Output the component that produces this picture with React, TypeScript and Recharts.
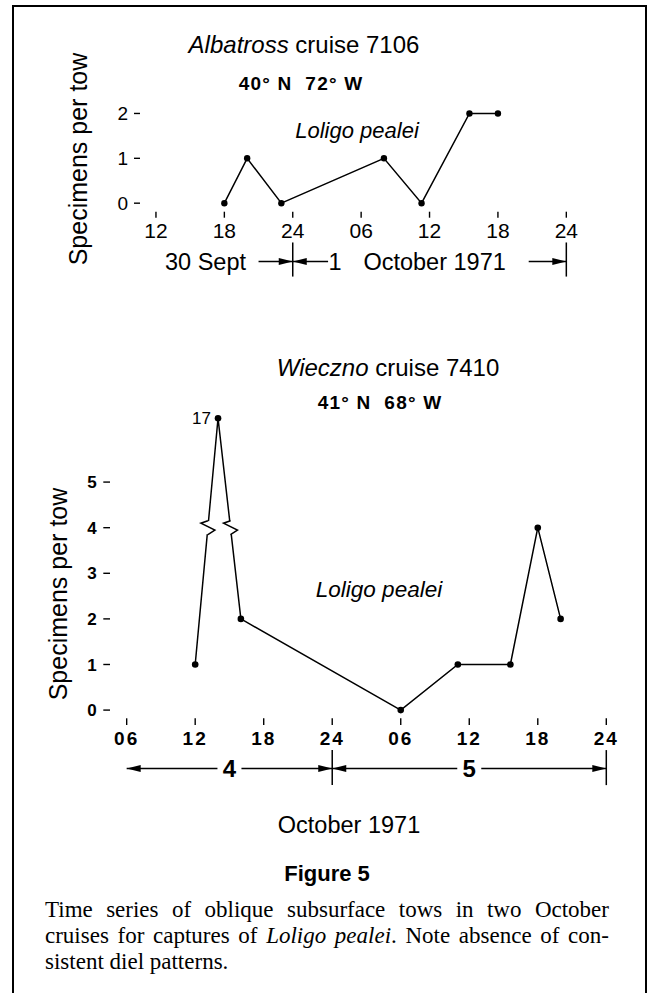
import React from "react";
import { LineChart, Line, XAxis, YAxis, ReferenceLine, ReferenceDot, LabelList } from "recharts";

// Albatross cruise 7106 — hours counted from 00h 30 Sept 1971
const TOP_HOURS = [18, 20, 23, 32, 35.3, 39.5, 42];
const TOP_COUNTS = [0, 1, 0, 1, 0, 2, 2];
const TOP_X_TICKS = [12, 18, 24, 30, 36, 42, 48];
const TOP_X_LABELS = ["12", "18", "24", "06", "12", "18", "24"];
const TOP_Y_TICKS = [0, 1, 2];
const TOP_DAY_MARKS = [24, 48];

// Wieczno cruise 7410 — hours counted from 00h 4 October 1971
const BOTTOM_HOURS = [12, 14, 16, 30, 35, 39.6, 42, 44];
const BOTTOM_COUNTS = [1, 17, 2, 0, 1, 1, 4, 2];
const BOTTOM_X_TICKS = [6, 12, 18, 24, 30, 36, 42, 48];
const BOTTOM_X_LABELS = ["06", "12", "18", "24", "06", "12", "18", "24"];
const BOTTOM_Y_TICKS = [0, 1, 2, 3, 4, 5];
const BOTTOM_DAYS = [
  { from: 6, to: 24, label: "4" },
  { from: 24, to: 48, label: "5" },
];

// broken y axis: counts above the last tick sit at OFF_SCALE_AT, zigzag drawn at BREAK_AT
const OFF_SCALE_AT = 6.4;
const BREAK_AT = 4;

const SANS = "'Liberation Sans', Arial, Helvetica, sans-serif";
const SERIF = "'Liberation Serif', 'Times New Roman', serif";

const topData = TOP_HOURS.map((h, i) => ({ h, n: TOP_COUNTS[i] }));

const yMax = BOTTOM_Y_TICKS[BOTTOM_Y_TICKS.length - 1];
const bottomData = BOTTOM_HOURS.map((h, i) => ({
  h,
  n: BOTTOM_COUNTS[i],
  y: BOTTOM_COUNTS[i] > yMax ? OFF_SCALE_AT : BOTTOM_COUNTS[i],
}));

// where each leg touching an off-scale point crosses the break level
const breaks: number[] = [];
bottomData.forEach((d, i) => {
  if (d.n <= yMax) return;
  for (const j of [i - 1, i + 1]) {
    const o = bottomData[j];
    if (!o) continue;
    const t = (BREAK_AT - o.y) / (d.y - o.y);
    breaks.push(o.h + t * (d.h - o.h));
  }
});

function Zigzag(p: any) {
  const { cx, cy } = p;
  return (
    <g>
      <rect x={cx - 4} y={cy - 6.5} width={8} height={13} fill="#fff" />
      <path
        d={`M${cx},${cy + 7} L${cx + 7},${cy + 2.5} L${cx - 7},${cy - 4.5} L${cx},${cy - 7}`}
        fill="none"
        stroke="#000"
        strokeWidth={1.5}
      />
    </g>
  );
}

function arrowShape(heads: "end" | "both", label?: string) {
  return (p: any) => {
    const { x1, y1, x2, y2 } = p;
    const d = Math.sign(x2 - x1) || 1;
    const L = 14;
    const W = 3.5;
    const head = (x: number, y: number, dir: number) =>
      `M${x},${y} L${x - dir * L},${y - W} L${x - dir * L},${y + W} Z`;
    const mid = (x1 + x2) / 2;
    return (
      <g>
        <line x1={x1} y1={y1} x2={x2} y2={y2} stroke="#000" strokeWidth={1.5} />
        <path d={head(x2, y2, d)} fill="#000" />
        {heads === "both" && <path d={head(x1, y1, -d)} fill="#000" />}
        {label && (
          <g>
            <rect x={mid - 12} y={y1 - 10} width={24} height={20} fill="#fff" />
            <text
              x={mid}
              y={y1}
              dy="0.36em"
              textAnchor="middle"
              fontFamily={SANS}
              fontWeight="bold"
              fontSize={24}
              fill="#000"
            >
              {label}
            </text>
          </g>
        )}
      </g>
    );
  };
}

function textShape(text: string, anchor: "start" | "middle" | "end") {
  return (p: any) => (
    <text
      x={p.cx}
      y={p.cy}
      dy="0.36em"
      textAnchor={anchor}
      fontFamily={SANS}
      fontSize={23.5}
      fill="#000"
    >
      {text}
    </text>
  );
}

function Label(props: {
  x: number;
  y: number;
  size: number;
  children: React.ReactNode;
  bold?: boolean;
  spacing?: number;
}) {
  return (
    <div
      style={{
        position: "absolute",
        left: props.x,
        top: props.y,
        transform: "translate(-50%, -50%)",
        whiteSpace: "pre",
        fontFamily: SANS,
        fontSize: props.size,
        fontWeight: props.bold ? "bold" : "normal",
        letterSpacing: props.spacing ?? 0,
        lineHeight: 1,
        color: "#000",
      }}
    >
      {props.children}
    </div>
  );
}

function YTitle({ x, y }: { x: number; y: number }) {
  return (
    <div
      style={{
        position: "absolute",
        left: x,
        top: y,
        transform: "translate(-50%, -50%) rotate(-90deg)",
        whiteSpace: "nowrap",
        fontFamily: SANS,
        fontSize: 25,
        lineHeight: 1,
        color: "#000",
      }}
    >
      Specimens per tow
    </div>
  );
}

const TOP_ARROW_Y = -1.3;
const TOP_MARK_Y = [-0.876, -1.636];
const BOTTOM_ARROW_Y = -1.28;
const BOTTOM_MARK_Y = [-0.877, -1.645];

export default function App() {
  return (
    <div
      style={{
        position: "absolute",
        left: 0,
        top: 0,
        width: 651,
        height: 993,
        overflow: "hidden",
        background: "#fff",
      }}
    >
      <div
        style={{
          position: "absolute",
          left: 12,
          top: 5,
          width: 635,
          height: 1000,
          boxSizing: "border-box",
          borderLeft: "2px solid #000",
          borderTop: "2px solid #000",
          borderRight: "2px solid #000",
        }}
      />

      <Label x={304} y={45} size={24}>
        <i>Albatross</i> cruise 7106
      </Label>
      <Label x={301} y={83} size={19} bold spacing={1.2}>
        {"40° N  72° W"}
      </Label>
      <Label x={357} y={131} size={22}>
        <i>Loligo pealei</i>
      </Label>
      <YTitle x={78} y={159} />

      <div style={{ position: "absolute", left: 0, top: 0 }}>
        <LineChart width={651} height={300} data={topData} margin={{ top: 100, right: 71, bottom: 58.3, left: 80 }}>
          <XAxis
            type="number"
            dataKey="h"
            domain={[10.6, 49.2]}
            allowDataOverflow
            ticks={TOP_X_TICKS}
            interval={0}
            tickFormatter={(v: number) => TOP_X_LABELS[TOP_X_TICKS.indexOf(v)]}
            axisLine={false}
            tickLine={{ stroke: "#000", strokeWidth: 1.4 }}
            tickSize={6}
            tickMargin={5}
            height={30}
            tick={{ fill: "#000", fontSize: 21, fontFamily: SANS }}
          />
          <YAxis
            type="number"
            domain={[-0.19, 2.3]}
            allowDataOverflow
            ticks={TOP_Y_TICKS}
            interval={0}
            axisLine={false}
            tickLine={{ stroke: "#000", strokeWidth: 1.4 }}
            tickSize={6}
            tickMargin={6}
            width={60}
            tick={{ fill: "#000", fontSize: 19, fontFamily: SANS }}
          />
          <Line
            dataKey="n"
            stroke="#000"
            strokeWidth={1.5}
            dot={{ r: 3.2, fill: "#000", stroke: "#000", strokeWidth: 0 }}
            activeDot={false}
            isAnimationActive={false}
          />
          {TOP_DAY_MARKS.map((h) => (
            <ReferenceLine
              key={`m${h}`}
              segment={[
                { x: h, y: TOP_MARK_Y[0] },
                { x: h, y: TOP_MARK_Y[1] },
              ]}
              stroke="#000"
              strokeWidth={1.5}
              ifOverflow="visible"
            />
          ))}
          <ReferenceLine
            segment={[
              { x: 21, y: TOP_ARROW_Y },
              { x: 24, y: TOP_ARROW_Y },
            ]}
            ifOverflow="visible"
            shape={arrowShape("end")}
          />
          <ReferenceLine
            segment={[
              { x: 27.1, y: TOP_ARROW_Y },
              { x: 24, y: TOP_ARROW_Y },
            ]}
            ifOverflow="visible"
            shape={arrowShape("end")}
          />
          <ReferenceLine
            segment={[
              { x: 44.7, y: TOP_ARROW_Y },
              { x: 48, y: TOP_ARROW_Y },
            ]}
            ifOverflow="visible"
            shape={arrowShape("end")}
          />
          <ReferenceDot x={19.9} y={TOP_ARROW_Y} r={0} ifOverflow="visible" shape={textShape("30 Sept", "end")} />
          <ReferenceDot x={27.7} y={TOP_ARROW_Y} r={0} ifOverflow="visible" shape={textShape("1", "middle")} />
          <ReferenceDot x={30.2} y={TOP_ARROW_Y} r={0} ifOverflow="visible" shape={textShape("October 1971", "start")} />
        </LineChart>
      </div>

      <Label x={388} y={368} size={24}>
        <i>Wieczno</i> cruise 7410
      </Label>
      <Label x={380} y={402} size={19} bold spacing={1.2}>
        {"41° N  68° W"}
      </Label>
      <Label x={379} y={590} size={22.5}>
        <i>Loligo pealei</i>
      </Label>
      <YTitle x={58} y={594} />

      <div style={{ position: "absolute", left: 0, top: 300 }}>
        <LineChart width={651} height={500} data={bottomData} margin={{ top: 100, right: 31, bottom: 51.7, left: 50 }}>
          <XAxis
            type="number"
            dataKey="h"
            domain={[4.54, 49.2]}
            allowDataOverflow
            ticks={BOTTOM_X_TICKS}
            interval={0}
            tickFormatter={(v: number) => BOTTOM_X_LABELS[BOTTOM_X_TICKS.indexOf(v)]}
            axisLine={false}
            tickLine={{ stroke: "#000", strokeWidth: 1.4 }}
            tickSize={6.7}
            tickMargin={6.7}
            height={30}
            tick={{ fill: "#000", fontSize: 19, fontFamily: SANS, fontWeight: "bold", letterSpacing: 2 }}
          />
          <YAxis
            type="number"
            domain={[-0.18, 6.8]}
            allowDataOverflow
            ticks={BOTTOM_Y_TICKS}
            interval={0}
            axisLine={false}
            tickLine={{ stroke: "#000", strokeWidth: 1.4 }}
            tickSize={6.7}
            tickMargin={6.6}
            width={60}
            tick={{ fill: "#000", fontSize: 17, fontFamily: SANS, fontWeight: "bold" }}
          />
          <Line
            dataKey="y"
            stroke="#000"
            strokeWidth={1.5}
            dot={{ r: 3.3, fill: "#000", stroke: "#000", strokeWidth: 0 }}
            activeDot={false}
            isAnimationActive={false}
          >
            <LabelList
              dataKey="n"
              content={(p: any) =>
                p.value > yMax ? (
                  <text x={p.x - 7} y={p.y} dy="0.36em" textAnchor="end" fontFamily={SANS} fontSize={17} fill="#000">
                    {p.value}
                  </text>
                ) : null
              }
            />
          </Line>
          {breaks.map((h, i) => (
            <ReferenceDot key={`b${i}`} x={h} y={BREAK_AT} r={0} ifOverflow="visible" shape={Zigzag} zIndex={1500} />
          ))}
          {[24, 48].map((h) => (
            <ReferenceLine
              key={`d${h}`}
              segment={[
                { x: h, y: BOTTOM_MARK_Y[0] },
                { x: h, y: BOTTOM_MARK_Y[1] },
              ]}
              stroke="#000"
              strokeWidth={1.5}
              ifOverflow="visible"
            />
          ))}
          {BOTTOM_DAYS.map((d) => (
            <ReferenceLine
              key={`a${d.label}`}
              segment={[
                { x: d.from, y: BOTTOM_ARROW_Y },
                { x: d.to, y: BOTTOM_ARROW_Y },
              ]}
              ifOverflow="visible"
              shape={arrowShape("both", d.label)}
            />
          ))}
        </LineChart>
      </div>

      <Label x={349} y={826} size={23.5}>
        October 1971
      </Label>
      <Label x={327} y={874} size={22} bold>
        Figure 5
      </Label>

      <div
        style={{
          position: "absolute",
          left: 45,
          top: 897,
          width: 564,
          fontFamily: SERIF,
          fontSize: 23,
          lineHeight: "26px",
          color: "#000",
        }}
      >
        <div style={{ textAlign: "justify", textAlignLast: "justify" }}>
          Time series of oblique subsurface tows in two October
        </div>
        <div style={{ textAlign: "justify", textAlignLast: "justify" }}>
          cruises for captures of <i>Loligo pealei</i>. Note absence of con-
        </div>
        <div>sistent diel patterns.</div>
      </div>
    </div>
  );
}
